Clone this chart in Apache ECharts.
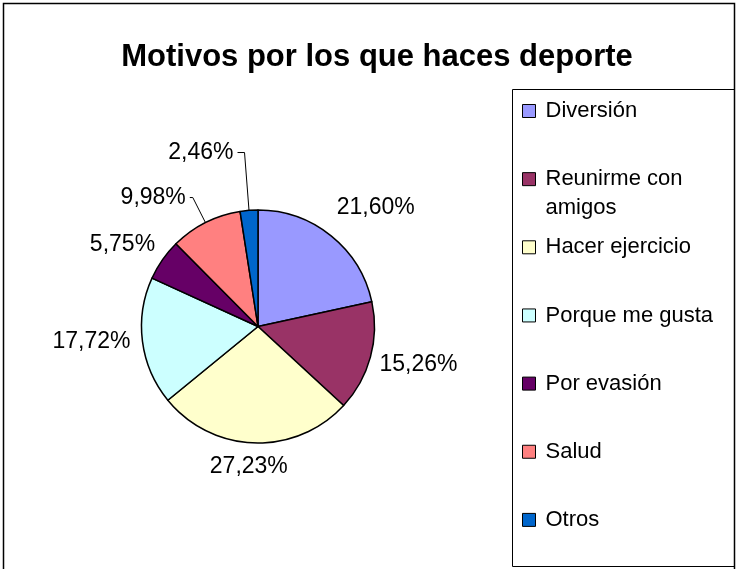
<!DOCTYPE html>
<html>
<head>
<meta charset="utf-8">
<script src="https://cdn.jsdelivr.net/npm/echarts@6/dist/echarts.min.js"></script>
<style>
  html, body { margin: 0; padding: 0; background: #fff; }
  #main { width: 736px; height: 569px; }
</style>
</head>
<body>
<div id="main"></div>
<script>
// values (percent of answers)
var motivos = ['Diversión', 'Reunirme con amigos', 'Hacer ejercicio', 'Porque me gusta', 'Por evasión', 'Salud', 'Otros'];
var porcentajes = [21.60, 15.26, 27.23, 17.72, 5.75, 9.98, 2.46];
var colores = ['#9999FF', '#993366', '#FFFFCC', '#CCFFFF', '#660066', '#FF8080', '#0066CC'];

// label placement for each slice: [length, length2, show leader line]
var colocacion = [[36, -21, false], [28, -22, false], [24, -38, false], [0, 8, false], [26, -18, false], [28, 3, true], [58, 7, true]];

var fuente = "Arial, 'Liberation Sans', sans-serif";

function formatoPct(v) {
    return v.toFixed(2).replace('.', ',') + '%';
}

// one legend per entry so the rows keep the spacing of the original box
function buildLegends() {
    var legends = [];
    var lh = 29;
    for (var i = 0; i < motivos.length; i++) {
        var c = 111 + 68.15 * i;
        var dosLineas = motivos[i] === 'Reunirme con amigos';
        legends.push({
            data: [motivos[i]],
            orient: 'vertical',
            left: 522,
            top: dosLineas ? c - 1.5 * lh : c - lh / 2,
            padding: 0,
            icon: 'rect',
            itemWidth: 13,
            itemHeight: 13,
            selectedMode: false,
            itemStyle: { borderColor: '#000', borderWidth: 1 },
            formatter: function (name) {
                // empty first line keeps "Reunirme con" level with its key
                return name === 'Reunirme con amigos' ? ' \nReunirme con\namigos' : name;
            },
            textStyle: {
                fontSize: 22,
                fontFamily: fuente,
                color: '#000',
                lineHeight: lh,
                padding: [0, 0, 0, 5]
            }
        });
    }
    return legends;
}

function displayChart() {
    var chartDom = document.getElementById('main');
    var myChart = echarts.init(chartDom);

    var datos = motivos.map(function (m, i) {
        return {
            name: m,
            value: porcentajes[i],
            itemStyle: { color: colores[i] },
            labelLine: { show: colocacion[i][2], length: colocacion[i][0], length2: colocacion[i][1] }
        };
    });

    var option = {
        animation: false,
        title: {
            text: 'Motivos por los que haces deporte',
            left: 377,
            top: 39,
            padding: 0,
            textAlign: 'center',
            textVerticalAlign: 'top',
            textStyle: { fontSize: 31, fontWeight: 'bold', fontFamily: fuente, color: '#000', lineHeight: 36 }
        },
        legend: buildLegends(),
        graphic: [
            {
                type: 'rect',
                silent: true,
                shape: { x: 3.5, y: 3.5, width: 731, height: 620 },
                style: { fill: 'none', stroke: '#000', lineWidth: 1.5 }
            },
            {
                type: 'rect',
                silent: true,
                shape: { x: 512.5, y: 89.5, width: 222, height: 477 },
                style: { fill: 'none', stroke: '#000', lineWidth: 1 }
            }
        ],
        series: [
            {
                type: 'pie',
                center: [258, 326.5],
                radius: 116.5,
                silent: true,
                avoidLabelOverlap: false,
                itemStyle: { borderColor: '#000', borderWidth: 1.5 },
                label: {
                    show: true,
                    position: 'outside',
                    fontSize: 23,
                    fontFamily: fuente,
                    color: '#000',
                    distanceToLabelLine: 4,
                    formatter: function (p) { return formatoPct(p.value); }
                },
                labelLine: { show: false, smooth: false, lineStyle: { color: '#000', width: 1 } },
                data: datos
            }
        ]
    };
    myChart.setOption(option);
}
displayChart();
</script>
</body>
</html>
